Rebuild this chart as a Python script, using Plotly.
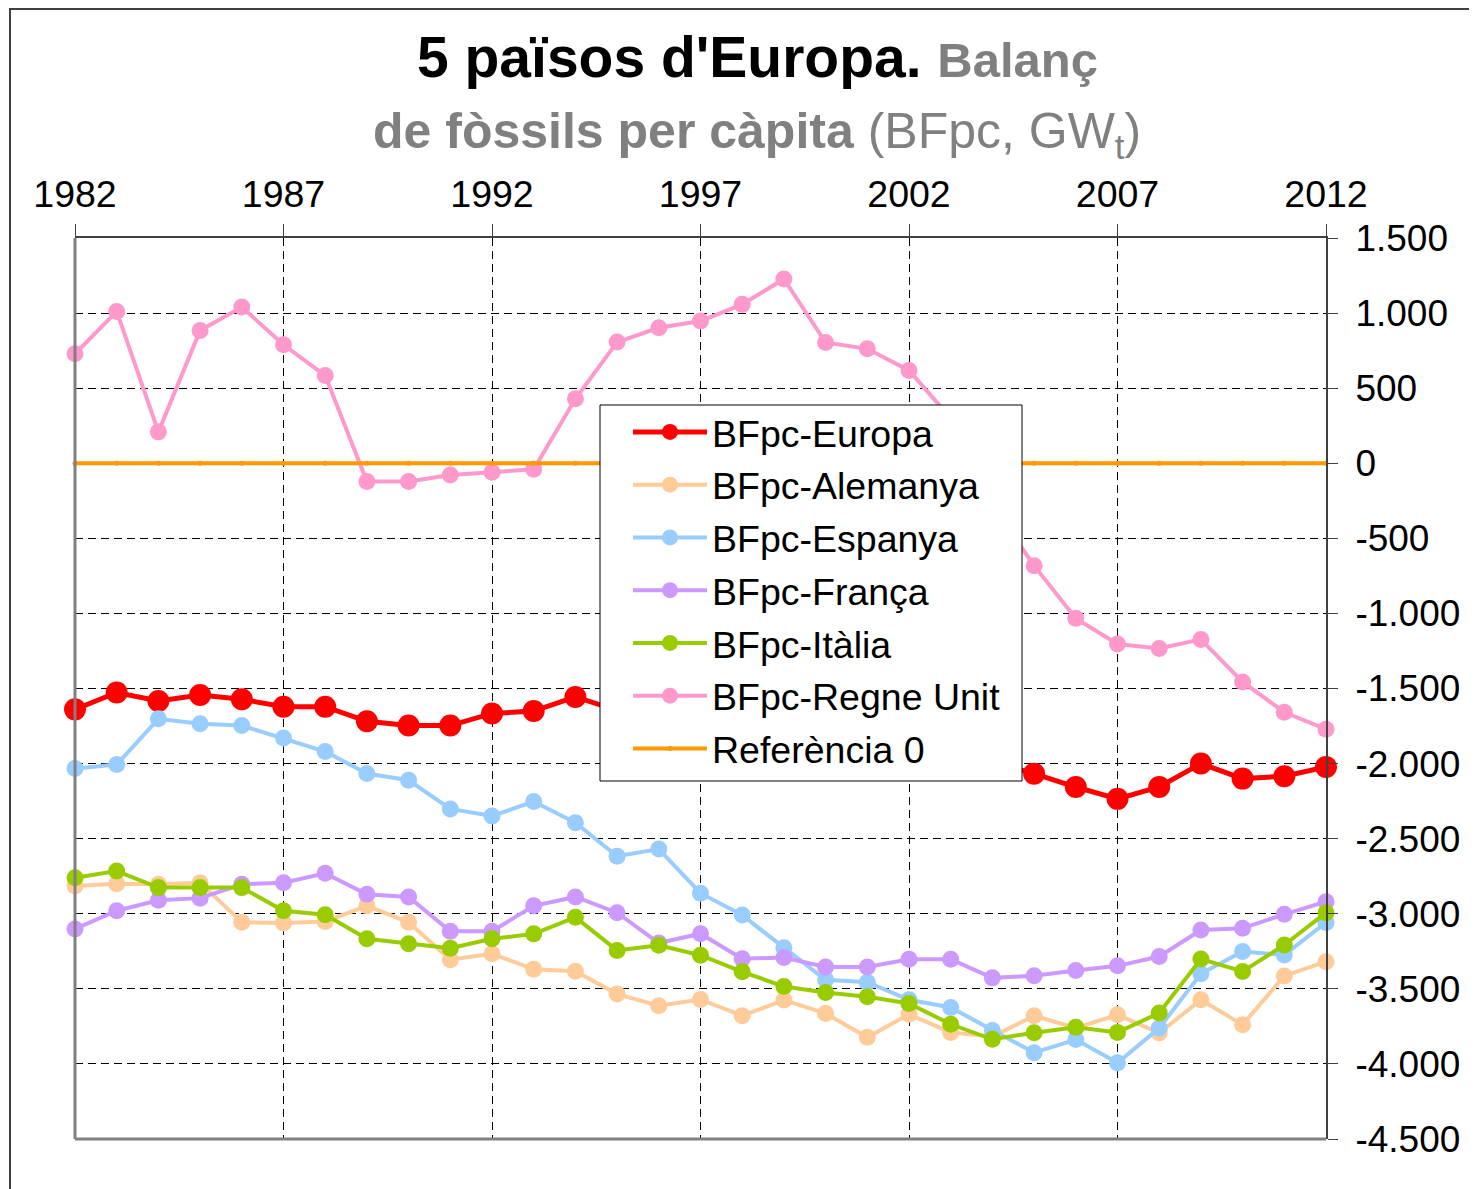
import plotly.graph_objects as go

years = list(range(1982, 2013))

europa = [-1639, -1527, -1583, -1543, -1572, -1621, -1621, -1718, -1747, -1747,
          -1666, -1650, -1556, -1645, -1680, -1700, -1760, -1790, -1830, -1860,
          -1900, -1950, -1990, -2067, -2156, -2235, -2156, -2000, -2100, -2084, -2022]
alemanya = [-2815, -2800, -2804, -2793, -3057, -3062, -3051, -2947, -3057, -3306,
            -3266, -3370, -3383, -3535, -3613, -3571, -3679, -3575, -3664, -3823,
            -3670, -3790, -3819, -3679, -3761, -3673, -3794, -3573, -3739, -3414, -3319]
espanya = [-2033, -2006, -1702, -1734, -1747, -1830, -1920, -2066, -2111, -2302,
           -2349, -2253, -2394, -2617, -2569, -2863, -3009, -3226, -3440, -3456,
           -3573, -3624, -3777, -3925, -3838, -3993, -3761, -3400, -3252, -3274, -3058]
franca = [-3101, -2980, -2910, -2896, -2804, -2793, -2731, -2870, -2888, -3117,
          -3117, -2947, -2888, -2993, -3195, -3133, -3299, -3292, -3354, -3354,
          -3303, -3303, -3427, -3413, -3378, -3347, -3285, -3108, -3097, -3004, -2920]
italia = [-2760, -2716, -2826, -2826, -2826, -2980, -3007, -3167, -3200, -3229,
          -3167, -3134, -3024, -3244, -3210, -3276, -3387, -3484, -3524, -3553,
          -3597, -3736, -3836, -3792, -3756, -3790, -3661, -3302, -3384, -3208, -2993]
regne_unit = [729, 1011, 209, 884, 1040, 789, 584, -122, -122, -78,
              -60, -40, 429, 807, 902, 947, 1058, 1227, 804, 762,
              618, 300, -280, -682, -1033, -1204, -1233, -1173, -1456, -1658, -1771]
referencia = [0] * len(years)

x_tick_vals = [1982, 1987, 1992, 1997, 2002, 2007, 2012]
x_tick_text = ["1982", "1987", "1992", "1997", "2002", "2007", "2012"]
y_tick_vals = [1500, 1000, 500, 0, -500, -1000, -1500, -2000, -2500, -3000, -3500, -4000, -4500]
y_tick_text = ["1.500", "1.000", "500", "0", "-500", "-1.000", "-1.500", "-2.000",
               "-2.500", "-3.000", "-3.500", "-4.000", "-4.500"]

FONT = "Arial, Liberation Sans, sans-serif"

series = [
    ("BFpc-Europa", europa, "#FF0000", 5, 22),
    ("BFpc-Alemanya", alemanya, "#FFCC99", 4, 17),
    ("BFpc-Espanya", espanya, "#99CCFF", 4, 17),
    ("BFpc-França", franca, "#CC99FF", 4, 17),
    ("BFpc-Itàlia", italia, "#99CC00", 4, 17),
    ("BFpc-Regne Unit", regne_unit, "#FF99CC", 4, 17),
    ("Referència 0", referencia, "#FF9900", 4, 5),
]

fig = go.Figure()
for i, (name, vals, col, lw, ms) in enumerate(series):
    fig.add_trace(go.Scatter(
        x=years, y=vals, name=name, mode="lines+markers",
        line=dict(color=col, width=lw),
        marker=dict(color=col, size=ms, symbol="circle"),
        legendgroup=f"g{i}", cliponaxis=False,
    ))

# page coordinates (the page has an 8px body margin)
def xp(px):
    return (px - 75) / 1251

def yp(py):
    return (1139 - py) / 901

fig.update_layout(
    width=1469, height=1181,
    margin=dict(l=67, r=151, t=230, b=50),
    paper_bgcolor="white", plot_bgcolor="white",
    font=dict(family=FONT, color="black", size=36),
    showlegend=True,
    legend=dict(
        x=xp(628), y=yp(401), xanchor="left", yanchor="top",
        bgcolor="rgba(0,0,0,0)", borderwidth=0,
        font=dict(family=FONT, size=37.5, color="black"),
        tracegroupgap=1, itemwidth=74, itemsizing="trace",
    ),
    xaxis=dict(
        range=[1982, 2012], side="top",
        tickvals=x_tick_vals, ticktext=x_tick_text,
        ticks="outside", ticklen=12, tickcolor="#404040", tickwidth=1,
        showline=True, linecolor="#404040", linewidth=2,
        showgrid=True, gridcolor="black", gridwidth=1, griddash="8px,5px",
        zeroline=False, tickfont=dict(size=37.5, family=FONT),
        ticklabelstandoff=2,
    ),
    yaxis=dict(
        range=[-4500, 1500], side="right",
        tickvals=y_tick_vals, ticktext=y_tick_text,
        ticks="outside", ticklen=10, tickcolor="#404040", tickwidth=1,
        showline=True, linecolor="#404040", linewidth=2,
        showgrid=True, gridcolor="black", gridwidth=1, griddash="8px,5px",
        zeroline=False, tickfont=dict(size=37, family=FONT),
        ticklabelstandoff=10,
    ),
    shapes=[
        dict(type="line", xref="paper", yref="paper", x0=0, x1=0, y0=0, y1=1,
             line=dict(color="#808080", width=3)),
        dict(type="line", xref="paper", yref="paper", x0=0, x1=1, y0=0, y1=0,
             line=dict(color="#808080", width=3)),
        dict(type="rect", xref="paper", yref="paper",
             x0=xp(10), x1=xp(1500), y0=yp(1210), y1=yp(9),
             line=dict(color="#404040", width=2)),
        dict(type="rect", xref="paper", yref="paper", layer="above",
             x0=xp(600), x1=xp(1022), y0=yp(781), y1=yp(405),
             fillcolor="white", line=dict(color="black", width=1)),
    ],
    annotations=[
        dict(xref="paper", yref="paper", x=xp(757), y=yp(57), xanchor="center", yanchor="middle",
             showarrow=False,
             text="<b>5 països d'Europa.</b> <b><span style='color:#808080;font-size:49px'>Balanç</span></b>",
             font=dict(family=FONT, size=57, color="black")),
        dict(xref="paper", yref="paper", x=xp(757), y=yp(134), xanchor="center", yanchor="middle",
             showarrow=False,
             text="<b>de fòssils per càpita</b> (BFpc, GW<sub><span style='color:#808080'>t</span></sub>)",
             font=dict(family=FONT, size=50, color="#808080")),
    ],
)

fig.write_html("out.html")
